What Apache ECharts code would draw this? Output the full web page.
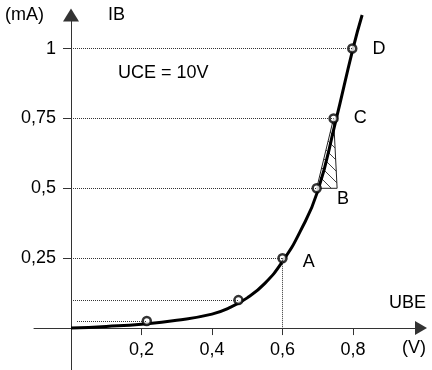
<!DOCTYPE html>
<html><head><meta charset="utf-8">
<script src="https://cdn.jsdelivr.net/npm/echarts@6/dist/echarts.min.js"></script>
<style>html,body{margin:0;padding:0;background:#fff}#c{width:432px;height:370px}</style>
</head><body><div id="c"></div>
<script>
// characteristic curve IB = f(UBE)
const curveUBE = [0, 0.1, 0.2, 0.3, 0.4, 0.45, 0.5, 0.55, 0.6, 0.65, 0.7, 0.75, 0.8, 0.826];
const curveIB  = [0, 0.006, 0.014, 0.028, 0.05, 0.073, 0.108, 0.16, 0.238, 0.345, 0.49, 0.735, 1.0, 1.12];
// measured points
const pointUBE = [0.215, 0.475, 0.6, 0.697, 0.745, 0.798];
const pointIB  = [0.025, 0.1, 0.25, 0.5, 0.75, 1.0];
const pointNames = ['', '', 'A', 'B', 'C', 'D'];
const guideStartUBE = [0.017, 0, 0, 0, 0, 0];
// hatched triangle B-C
const triangleUBE = [0.697, 0.755, 0.745];
const triangleIB  = [0.5, 0.5, 0.75];
const xTicks = [0.2, 0.4, 0.6, 0.8];
const yTicks = [0.25, 0.5, 0.75, 1];

const FONT = '"Liberation Sans", Arial, sans-serif';
const FS = 18;
const fmt = v => String(v).replace('.', ',');

// hatch pattern
const pc = document.createElement('canvas');
pc.width = 11; pc.height = 11;
const g = pc.getContext('2d');
g.strokeStyle = '#444'; g.lineWidth = 1;
g.beginPath();
g.moveTo(-1, -1); g.lineTo(12, 12);
g.moveTo(-12, -1); g.lineTo(1, 12);
g.moveTo(10, -1); g.lineTo(23, 12);
g.stroke();

const letterOffsets = { A: [0, 4], B: [0, 11], C: [0, 0], D: [0, 0] };

const guideLines = [];
pointUBE.forEach((x, i) => {
  guideLines.push([{ coord: [guideStartUBE[i], pointIB[i]] }, { coord: [x, pointIB[i]] }]);
});
guideLines.push([{ coord: [pointUBE[2], pointIB[2]] }, { coord: [pointUBE[2], 0] }]);

const X_MIN = -0.105, X_MAX = 0.993, Y_MIN = -0.15, Y_MAX = 1.12;
const GRID = { left: 34, right: 11, top: 15, bottom: 0 };
const W = 432, H = 370;
const gw = W - GRID.left - GRID.right, gh = H - GRID.top - GRID.bottom;
const xOffset = -gh * (0 - Y_MIN) / (Y_MAX - Y_MIN);
const yOffset = -gw * (0 - X_MIN) / (X_MAX - X_MIN);

const chart = echarts.init(document.getElementById('c'), null, { renderer: 'canvas' });
chart.setOption({
  animation: false,
  backgroundColor: '#fff',
  grid: Object.assign({ containLabel: false, outerBoundsMode: 'none' }, GRID),
  xAxis: {
    type: 'value', min: X_MIN, max: X_MAX, position: 'bottom', offset: xOffset,
    axisLine: { show: true, onZero: false, symbol: ['none', 'triangle'], symbolSize: [14, 12],
      lineStyle: { color: '#333', width: 1 } },
    axisTick: { show: true, customValues: xTicks, length: 7, lineStyle: { color: '#333' } },
    axisLabel: { show: true, customValues: xTicks, formatter: fmt, margin: 13,
      color: '#000', fontSize: FS, fontFamily: FONT },
    splitLine: { show: false }
  },
  yAxis: {
    type: 'value', min: Y_MIN, max: Y_MAX, position: 'left', offset: yOffset,
    axisLine: { show: true, onZero: false, symbol: ['none', 'triangle'], symbolSize: [16, 13],
      lineStyle: { color: '#333', width: 1 } },
    axisTick: { show: true, customValues: yTicks, length: 8, lineStyle: { color: '#333' } },
    axisLabel: { show: true, customValues: yTicks, formatter: fmt, margin: 15,
      color: '#000', fontSize: FS, fontFamily: FONT },
    splitLine: { show: false }
  },
  graphic: [
    { type: 'text', left: 5, top: 6, style: { text: '(mA)', fontSize: FS, fontFamily: FONT, fill: '#000' } },
    { type: 'text', left: 108, top: 6, style: { text: 'IB', fontSize: FS, fontFamily: FONT, fill: '#000' } },
    { type: 'text', left: 118, top: 64, style: { text: 'UCE = 10V', fontSize: FS, fontFamily: FONT, fill: '#000' } },
    { type: 'text', right: 6, top: 294, style: { text: 'UBE', fontSize: FS, fontFamily: FONT, fill: '#000' } },
    { type: 'text', right: 6, top: 339, style: { text: '(V)', fontSize: FS, fontFamily: FONT, fill: '#000' } }
  ],
  series: [
    {
      type: 'custom',
      renderItem: (params, api) => {
        const pts = triangleUBE.map((x, i) => api.coord([x, triangleIB[i]]));
        return { type: 'polygon', shape: { points: pts },
          style: { fill: { image: pc, repeat: 'repeat' }, stroke: '#222', lineWidth: 1 } };
      },
      data: [[0, 0]],
      silent: true, z: 1
    },
    {
      type: 'line',
      data: curveUBE.map((x, i) => [x, curveIB[i]]),
      smooth: 0.5,
      showSymbol: false,
      clip: false,
      lineStyle: { color: '#000', width: 3 },
      markLine: {
        silent: true, symbol: ['none', 'none'], label: { show: false },
        lineStyle: { color: '#333', width: 1, type: [1, 1] },
        data: guideLines
      },
      z: 2
    },
    {
      type: 'scatter',
      label: {
        show: true, position: 'right', distance: 15,
        formatter: p => pointNames[p.dataIndex],
        color: '#000', opacity: 1, fontSize: FS, fontFamily: FONT
      },
      data: pointUBE.map((x, i) => ({
        value: [x, pointIB[i]],
        label: { offset: letterOffsets[pointNames[i]] || [0, 0] }
      })),
      symbol: 'circle', symbolSize: 8,
      itemStyle: { color: '#fff', borderColor: '#000', borderWidth: 2.5 },
      z: 3
    }
  ]
});
</script>
</body></html>
